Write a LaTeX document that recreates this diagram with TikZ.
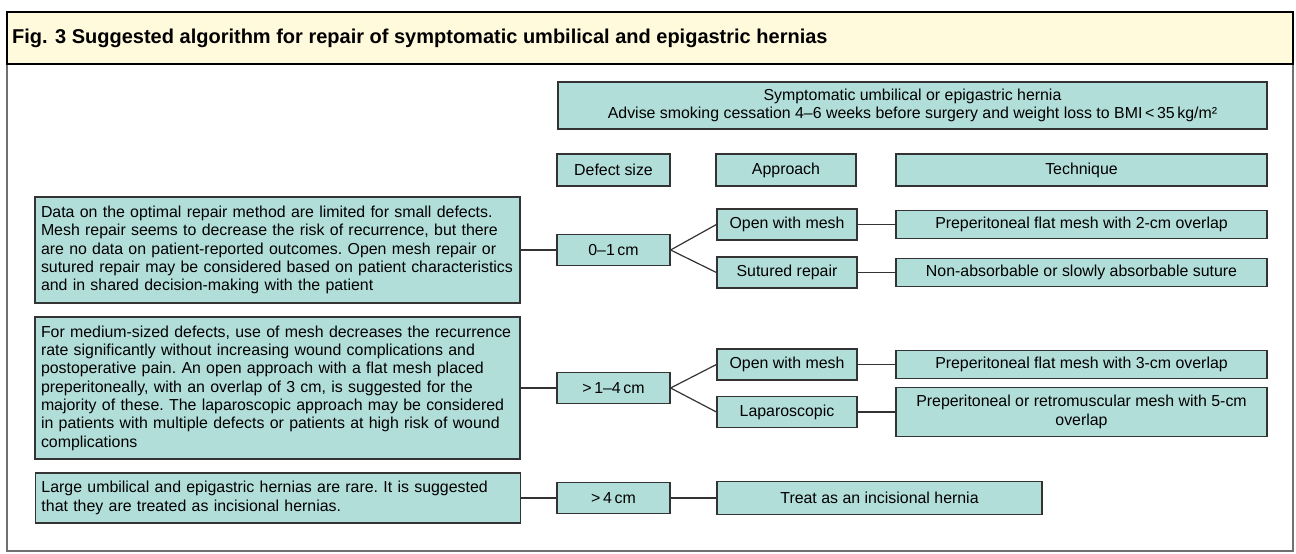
\documentclass[tikz,border=0pt]{standalone}
\usepackage{fontspec}
\setmainfont{Liberation Sans}
\definecolor{boxfill}{HTML}{B2DEDA}
\definecolor{boxline}{HTML}{333333}
\definecolor{headfill}{HTML}{FFFADC}
\definecolor{framecol}{HTML}{707070}
\newcommand\bodyfnt{\fontsize{15.9}{18.3}\selectfont\frenchspacing}
\newcommand\titlefnt{\fontsize{20}{23}\selectfont\bfseries}
\newcommand\lineb[1]{\mbox{#1}}
\begin{document}
\begin{tikzpicture}[x=1pt,y=-1pt,
  box/.style={draw=boxline, fill=boxfill, line width=1.2pt, inner sep=0pt, font=\bodyfnt, align=center},
  leftbox/.style={box, minimum width=485pt, text width=473pt, align=left},
  col1/.style={box, minimum width=113pt, minimum height=31pt},
  col2/.style={box, minimum width=140pt, minimum height=31pt},
  col3/.style={box, minimum width=371pt, minimum height=28pt},
  conn/.style={draw=boxline, line width=1.2pt}]
\useasboundingbox (0,0) rectangle (1296,554);
% frame and header
\draw[framecol, line width=1.2pt] (7,12) rectangle (1293,551);
\draw[black, fill=headfill, line width=1.2pt] (7,12) rectangle (1293,64);
\node[anchor=west, font=\titlefnt, inner sep=0pt] (title) at (12,38) {Fig. 3 Suggested algorithm for repair of symptomatic umbilical and epigastric hernias};
% top box
\node[box, minimum width=709pt, minimum height=47pt] (top) at (912.5,105.5) {Symptomatic umbilical or epigastric hernia\\Advise smoking cessation 4–6 weeks before surgery and weight loss to BMI\,<\,35\,kg/m²};
% column headers
\node[col1, minimum height=32pt] (hd) at (613.5,170) {Defect size};
\node[col2, minimum height=32pt] (ha) at (786,170) {Approach};
\node[col3, minimum height=32pt] (ht) at (1081.5,170) {Technique};
% row 1
\node[leftbox, minimum height=106pt] (L1) at (277.5,250) {\lineb{Data on the optimal repair method are limited for small defects.}\\\lineb{Mesh repair seems to decrease the risk of recurrence, but there}\\\lineb{are no data on patient-reported outcomes. Open mesh repair or}\\\lineb{sutured repair may be considered based on patient characteristics}\\\lineb{and in shared decision-making with the patient}};
\node[col1] (d1) at (613.5,250) {0–1\,cm};
\node[col2] (a1) at (787,224.5) {Open with mesh};
\node[col2] (a2) at (787,272.5) {Sutured repair};
\node[col3] (t1) at (1081.5,224.5) {Preperitoneal flat mesh with 2-cm overlap};
\node[col3] (t2) at (1081.5,272.5) {Non-absorbable or slowly absorbable suture};
% row 2
\node[leftbox, minimum height=142pt] (L2) at (277.5,388) {\lineb{For medium-sized defects, use of mesh decreases the recurrence}\\\lineb{rate significantly without increasing wound complications and}\\\lineb{postoperative pain. An open approach with a flat mesh placed}\\\lineb{preperitoneally, with an overlap of 3 cm, is suggested for the}\\\lineb{majority of these. The laparoscopic approach may be considered}\\\lineb{in patients with multiple defects or patients at high risk of wound}\\\lineb{complications}};
\node[col1] (d2) at (613.5,388) {>\,1–4\,cm};
\node[col2] (a3) at (787,364.5) {Open with mesh};
\node[col2] (a4) at (787,412) {Laparoscopic};
\node[col3] (t3) at (1081.5,364.5) {Preperitoneal flat mesh with 3-cm overlap};
\node[col3, minimum height=49pt] (t4) at (1081.5,412) {Preperitoneal or retromuscular mesh with 5-cm\\overlap};
% row 3
\node[leftbox, minimum height=50pt] (L3) at (278,498) {\lineb{Large umbilical and epigastric hernias are rare. It is suggested}\\\lineb{that they are treated as incisional hernias.}};
\node[col1] (d3) at (613.5,498) {>\,4\,cm};
\node[box, minimum width=325pt, minimum height=33pt] (t5) at (879.5,498) {Treat as an incisional hernia};
% connectors
\draw[conn] (L1.east) -- (d1.west);
\draw[conn] (d1.east) -- (a1.west);
\draw[conn] (d1.east) -- (a2.west);
\draw[conn] (a1.east) -- (t1.west);
\draw[conn] (a2.east) -- (t2.west);
\draw[conn] (L2.east) -- (d2.west);
\draw[conn] (d2.east) -- (a3.west);
\draw[conn] (d2.east) -- (a4.west);
\draw[conn] (a3.east) -- (t3.west);
\draw[conn] (a4.east) -- (t4.west);
\draw[conn] (L3.east) -- (d3.west);
\draw[conn] (d3.east) -- (t5.west);
\end{tikzpicture}
\end{document}
